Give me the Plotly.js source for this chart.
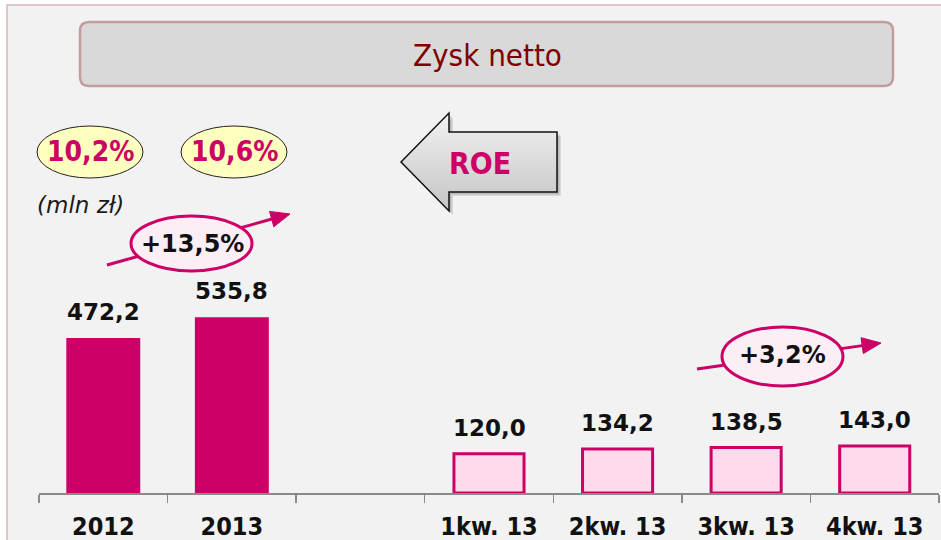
<!DOCTYPE html>
<html>
<head>
<meta charset="utf-8">
<script src="https://cdn.plot.ly/plotly-3.0.1.min.js"></script>
<style>html,body{margin:0;padding:0;background:#fff;}#chart{width:941px;height:540px;}</style>
</head>
<body>
<div id="chart"></div>
<script>
// ---- data ----
const years = ['2012', '2013'];
const yearValues = [472.2, 535.8];
const gapLabel = '\u00a0';
const quarters = ['1kw. 13', '2kw. 13', '3kw. 13', '4kw. 13'];
const quarterValues = [120.0, 134.2, 138.5, 143.0];
const roeLabels = ['10,2%', '10,6%'];
const growthYear = '+13,5%';
const growthQuarter = '+3,2%';
const chartTitle = 'Zysk netto';
const unitLabel = '(mln zł)';
const roeText = 'ROE';

const categoryOrder = years.concat([gapLabel], quarters);

// ---- layout helpers (pixel -> paper) ----
const W = 941, H = 540, ML = 39, MR = 2, MT = 165, MB = 47;
const PW = W - ML - MR, PH = H - MT - MB;
const X = px => (px - ML) / PW;
const Y = py => (H - MB - py) / PH;
const path = pts => 'M' + pts.map(p => X(p[0]).toFixed(5) + ',' + Y(p[1]).toFixed(5)).join(' L') + ' Z';

const MAG = '#cc0066';
const fmt = v => v.toFixed(1).replace('.', ',');

function roundRect(x0, y0, x1, y1, r) {
  const P = (x, y) => X(x).toFixed(5) + ',' + Y(y).toFixed(5);
  return 'M' + P(x0 + r, y0) + ' L' + P(x1 - r, y0) + ' Q' + P(x1, y0) + ' ' + P(x1, y0 + r) +
    ' L' + P(x1, y1 - r) + ' Q' + P(x1, y1) + ' ' + P(x1 - r, y1) +
    ' L' + P(x0 + r, y1) + ' Q' + P(x0, y1) + ' ' + P(x0, y1 - r) +
    ' L' + P(x0, y0 + r) + ' Q' + P(x0, y0) + ' ' + P(x0 + r, y0) + ' Z';
}
function arrowShapes(x0, y0, x1, y1) {
  const dx = x1 - x0, dy = y1 - y0, L = Math.hypot(dx, dy);
  const ux = dx / L, uy = dy / L, hl = 19, hw = 8;
  const bx = x1 - ux * hl, by = y1 - uy * hl;
  return [
    {type: 'line', xref: 'paper', yref: 'paper', x0: X(x0), y0: Y(y0), x1: X(bx + ux * 2), y1: Y(by + uy * 2),
     line: {color: MAG, width: 3}},
    {type: 'path', xref: 'paper', yref: 'paper',
     path: path([[x1, y1], [bx - uy * hw, by + ux * hw], [bx + uy * hw, by - ux * hw]]),
     fillcolor: MAG, line: {color: MAG, width: 1}}
  ];
}
function ellipse(x0, y0, x1, y1, fill, lineColor, lw) {
  return {type: 'circle', xref: 'paper', yref: 'paper', x0: X(x0), x1: X(x1), y0: Y(y1), y1: Y(y0),
    fillcolor: fill, line: {color: lineColor, width: lw}};
}

// ROE block arrow (pointing left) with vertical gradient
const A = {tipX: 401, tipY: 162, headX: 449, headTop: 113, headBot: 211, bodyTop: 132, bodyBot: 192, right: 557};
function arrowPts(dx, dy) {
  return [[A.tipX, A.tipY], [A.headX, A.headTop], [A.headX, A.bodyTop], [A.right, A.bodyTop],
    [A.right, A.bodyBot], [A.headX, A.bodyBot], [A.headX, A.headBot]].map(p => [p[0] + dx, p[1] + dy]);
}
function leftAt(y) {
  const half = y < A.tipY ? (A.tipY - A.headTop) : (A.headBot - A.tipY);
  return A.tipX + (A.headX - A.tipX) * Math.min(1, Math.abs(y - A.tipY) / half);
}
function rightAt(y) { return (y >= A.bodyTop && y <= A.bodyBot) ? A.right : A.headX; }
function gradientBands() {
  const stops = new Set([A.headTop, A.bodyTop, A.tipY, A.bodyBot, A.headBot]);
  for (let y = A.headTop; y < A.headBot; y += 3) stops.add(y);
  const ys = Array.from(stops).sort((a, b) => a - b);
  const c0 = [242, 242, 242], c1 = [196, 196, 196];
  const out = [];
  for (let i = 0; i < ys.length - 1; i++) {
    const ya = ys[i], yb = ys[i + 1], ym = (ya + yb) / 2;
    const t = (ym - A.headTop) / (A.headBot - A.headTop);
    const c = c0.map((v, k) => Math.round(v + (c1[k] - v) * t));
    const R = rightAt(ym);
    const ybe = Math.min(yb + 0.7, A.headBot);
    out.push({type: 'path', xref: 'paper', yref: 'paper',
      path: path([[leftAt(ya), ya], [R, ya], [R, ybe], [leftAt(ybe), ybe]]),
      fillcolor: 'rgb(' + c.join(',') + ')', line: {width: 0}});
  }
  return out;
}

const shapes = [
  {type: 'rect', xref: 'paper', yref: 'paper', layer: 'below', x0: X(7), x1: X(950), y0: Y(5), y1: Y(550),
   fillcolor: '#f2f2f2', line: {color: '#d3b8b8', width: 1.5}},
  {type: 'path', xref: 'paper', yref: 'paper', path: roundRect(80, 22, 893, 86, 9),
   fillcolor: '#d9d9d9', line: {color: '#c29c9c', width: 2.5}},
  ellipse(37, 126, 143, 178, '#ffffc0', '#222', 1),
  ellipse(181, 126, 287, 178, '#ffffc0', '#222', 1),
  {type: 'path', xref: 'paper', yref: 'paper', path: path(arrowPts(4, 4)),
   fillcolor: 'rgba(0,0,0,0.10)', line: {width: 0}},
  {type: 'path', xref: 'paper', yref: 'paper', path: path(arrowPts(2.5, 2.5)),
   fillcolor: 'rgba(0,0,0,0.15)', line: {width: 0}},
  ...gradientBands(),
  {type: 'path', xref: 'paper', yref: 'paper', path: path(arrowPts(0, 0)),
   fillcolor: 'rgba(0,0,0,0)', line: {color: '#111', width: 1.5}},
  ...arrowShapes(107, 265, 290, 214),
  ellipse(131, 216, 252, 271, '#fbeef4', MAG, 3),
  ...arrowShapes(697, 369, 881, 343),
  ellipse(722, 327, 843, 386, '#fbeef4', MAG, 3)
];

const textFont = 'DejaVu Sans, sans-serif';
const condFont = 'DejaVu Sans Condensed, DejaVu Sans, sans-serif';
const ann = (x, y, text, font) => ({xref: 'paper', yref: 'paper', x: X(x), y: Y(y), text, showarrow: false,
  xanchor: 'center', yanchor: 'middle', font});

const annotations = [
  ann(487, 55, chartTitle, {family: condFont, size: 31, color: '#7f0000'}),
  ann(90, 151, '<b>' + roeLabels[0] + '</b>', {family: condFont, size: 28, color: MAG}),
  ann(234, 151, '<b>' + roeLabels[1] + '</b>', {family: condFont, size: 28, color: MAG}),
  ann(480, 163, '<b>' + roeText + '</b>', {family: condFont, size: 30, color: MAG}),
  ann(80, 205, '<i>' + unitLabel + '</i>', {family: textFont, size: 23, color: '#1a1a1a'}),
  ann(192, 244, '<b>' + growthYear + '</b>', {family: textFont, size: 24, color: '#111'}),
  ann(782, 355, '<b>' + growthQuarter + '</b>', {family: textFont, size: 24, color: '#111'})
];
const valueLabel = (cat, v) => ({x: categoryOrder.indexOf(cat), y: v, xref: 'x', yref: 'y', yshift: 26,
  text: '<b>' + fmt(v) + '</b>', showarrow: false, font: {family: textFont, size: 23, color: '#111'}});
years.forEach((c, i) => annotations.push(valueLabel(c, yearValues[i])));
quarters.forEach((c, i) => annotations.push(valueLabel(c, quarterValues[i])));

const traces = [
  {type: 'bar', x: years, y: yearValues, width: 0.575, marker: {color: MAG, line: {width: 0}},
   hoverinfo: 'none'},
  {type: 'bar', x: [gapLabel].concat(quarters), y: [null].concat(quarterValues), width: 0.545,
   marker: {color: '#ffdaec', line: {color: MAG, width: 3}}, hoverinfo: 'none'}
];

const layout = {
  width: W, height: H,
  margin: {l: ML, r: MR, t: MT, b: MB, pad: 0},
  paper_bgcolor: '#ffffff', plot_bgcolor: 'rgba(0,0,0,0)',
  barmode: 'overlay', showlegend: false,
  xaxis: {type: 'category', categoryorder: 'array', categoryarray: categoryOrder,
    range: [-0.5, 6.5], showline: true, linecolor: '#8a8a8a', linewidth: 1.5, ticks: 'outside',
    tickson: 'boundaries', ticklen: 8, tickcolor: '#8a8a8a', tickwidth: 1.5, showgrid: false, zeroline: false,
    ticklabelstandoff: 10,
    tickfont: {family: condFont, size: 25, color: '#111', weight: 'bold'}, fixedrange: true},
  yaxis: {visible: false, range: [0, 1000], fixedrange: true},
  shapes, annotations
};

Plotly.newPlot('chart', traces, layout, {displayModeBar: false, staticPlot: true});
</script>
</body>
</html>
